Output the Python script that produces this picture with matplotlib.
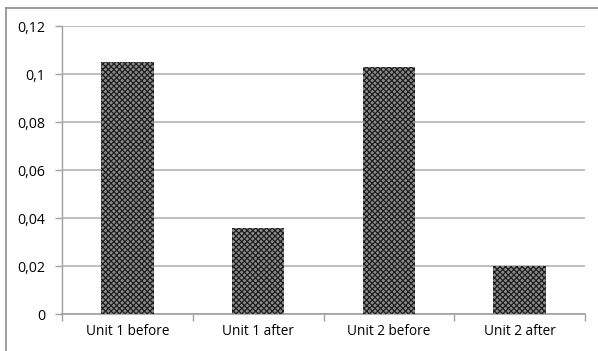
import matplotlib
matplotlib.use("Agg")
import matplotlib.pyplot as plt
from matplotlib.lines import Line2D

categories = ["Unit 1 before", "Unit 1 after", "Unit 2 before", "Unit 2 after"]
values = [0.105, 0.036, 0.103, 0.020]
yticks = [0, 0.02, 0.04, 0.06, 0.08, 0.10, 0.12]
ytick_labels = ["0", "0,02", "0,04", "0,06", "0,08", "0,1", "0,12"]

plt.rcParams['font.family'] = ['Open Sans', 'DejaVu Sans']
plt.rcParams['hatch.linewidth'] = 0.9

fig = plt.figure(figsize=(5.98, 3.51), dpi=100)
ax = fig.add_axes([62/598, 1-314/351, (585-62)/598, (314-26)/351])

x = list(range(len(categories)))
ax.bar(x, values, width=0.4, facecolor='#8c8c8c', hatch='xxxxxx', edgecolor='#1e1e1e', linewidth=0, zorder=3)

ax.set_xlim(-0.5, len(categories) - 0.5)
ax.set_ylim(0, 0.12)
ax.set_yticks(yticks)
ax.set_yticklabels(ytick_labels, fontsize=10.2, color='black')
ax.set_xticks(x)
ax.set_xticklabels(categories, fontsize=9.8, color='black')
ax.tick_params(axis='x', length=0, pad=7)
ax.tick_params(axis='y', length=5, width=1, color='#a0a0a0', pad=7)
ax.set_xticks([i + 0.5 for i in range(-1, len(categories))], minor=True)
ax.tick_params(axis='x', which='minor', length=5, width=1, color='#a0a0a0')

ax.grid(axis='y', color='#b4b4b4', linewidth=1.2, zorder=0)
for s in ['top', 'right']:
    ax.spines[s].set_visible(False)
ax.spines['left'].set_color('#a0a0a0')
ax.spines['bottom'].set_color('#a0a0a0')
ax.spines['left'].set_linewidth(1)
ax.spines['bottom'].set_linewidth(1.2)

# Chart border (top and left edges visible)
fig.add_artist(Line2D([6/598, 1], [1-8/351, 1-8/351], color='#8c8c8c', linewidth=1.2, transform=fig.transFigure))
fig.add_artist(Line2D([6/598, 6/598], [0, 1-8/351], color='#8c8c8c', linewidth=1.2, transform=fig.transFigure))

fig.savefig("out.png", dpi=100)
